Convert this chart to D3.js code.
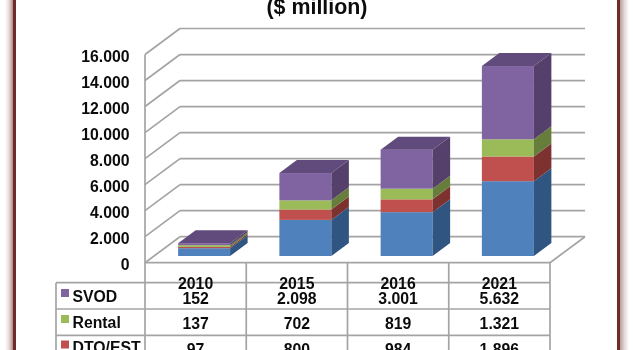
<!DOCTYPE html>
<html><head><meta charset="utf-8">
<script src="https://cdn.jsdelivr.net/npm/d3@7"></script>
<style>html,body{margin:0;padding:0;background:#fff}svg{display:block;filter:blur(0.4px)}
text{font-family:"Liberation Sans",Arial,sans-serif;font-weight:bold;fill:#0c0c0c}</style>
</head><body><svg id="c" width="633" height="350"></svg>
<script>
const categories = ["2010","2015","2016","2021"];
const blue   = [600, 2775, 3370, 5750];
const dto    = [97, 800, 984, 1896];
const rental = [137, 702, 819, 1321];
const svod   = [152, 2098, 3001, 5632];
const svodLabels   = ["152","2.098","3.001","5.632"];
const rentalLabels = ["137","702","819","1.321"];
const dtoLabels    = ["97","800","984","1.896"];
const yTicks = [0,2000,4000,6000,8000,10000,12000,14000,16000];
const yLabels = ["0","2.000","4.000","6.000","8.000","10.000","12.000","14.000","16.000"];

const W=633,H=350;
const svg=d3.select("#c");
const defs=svg.append("defs");
function grad(id,stops){const g=defs.append("linearGradient").attr("id",id);
  stops.forEach(s=>g.append("stop").attr("offset",s[0]).attr("stop-color",s[1]));}
grad("sl",[[0,"#ffffff"],[0.5,"#ead9d9"],[1,"#a98a8a"]]);
grad("sr",[[0,"#b89c9c"],[0.5,"#e6d8d8"],[1,"#ffffff"]]);
svg.append("rect").attr("x",5).attr("y",0).attr("width",8).attr("height",H).attr("fill","url(#sl)");
svg.append("rect").attr("x",620).attr("y",0).attr("width",9).attr("height",H).attr("fill","url(#sr)");
svg.append("rect").attr("x",13).attr("y",0).attr("width",3).attr("height",H).attr("fill","#6f2a2a");
svg.append("rect").attr("x",617).attr("y",0).attr("width",3).attr("height",H).attr("fill","#6f2a2a");

const y=d3.scaleLinear().domain([0,16000]).range([262.7,54.5]);
const x=d3.scaleBand().domain(categories).range([145,550]);
const depthX=35,depthY=-26;
const gridC="#a4a4a4";
const fs=15.8;
const g=svg.append("g");
const line=(x1,y1,x2,y2,w=1.7)=>g.append("line").attr("x1",x1).attr("y1",y1).attr("x2",x2).attr("y2",y2)
  .attr("stroke",gridC).attr("stroke-width",w);

// walls and grid
yTicks.forEach(t=>{
  line(145,y(t),145+depthX,y(t)+depthY);
  line(145+depthX,y(t)+depthY,550+depthX,y(t)+depthY);
});
line(145,y(16000),145,H);
line(550,y(0),550+depthX,y(0)+depthY);
line(145,y(0),550,y(0));

// y labels
g.selectAll("text.yl").data(yTicks).join("text").attr("class","yl")
  .attr("x",129.5).attr("y",t=>y(t)+7.3).attr("text-anchor","end").attr("font-size",fs)
  .text((t,i)=>yLabels[i]);

// bars
const series=[
 {v:blue,front:"#4f81bd",side:"#2f5580"},
 {v:dto,front:"#c0504d",side:"#7d3230"},
 {v:rental,front:"#9bbb59",side:"#677d3b"},
 {v:svod,front:"#8064a2",side:"#54406a",top:"#614b7c"}
];
const barW=52,offX=9,dX=17.5,dY=-13,base=y(0)-6.7;
const h=d3.scaleLinear().domain([0,16000]).range([0,y(0)-y(16000)]);
categories.forEach((c,i)=>{
  const bx=x(c)+x.bandwidth()/2-barW/2+offX-0.5;
  let cum=0;
  series.forEach(s=>{
    const y0=base-h(cum),y1=base-h(cum+s.v[i]);
    cum+=s.v[i];
    g.append("rect").attr("x",bx).attr("y",y1).attr("width",barW).attr("height",y0-y1).attr("fill",s.front);
    g.append("path").attr("fill",s.side).attr("d",d3.line()([[bx+barW,y0],[bx+barW+dX,y0+dY],[bx+barW+dX,y1+dY],[bx+barW,y1]]));
    if(s.top) g.append("path").attr("fill",s.top).attr("d",d3.line()([[bx,y1],[bx+dX,y1+dY],[bx+barW+dX,y1+dY],[bx+barW,y1]]));
  });
});

// table
const rowsY=[282.7,309,335.3];
rowsY.forEach(r=>line(56,r,550,r));
line(56,rowsY[0],56,H);
x.domain().forEach(c=>line(x(c)+x.bandwidth(),y(0),x(c)+x.bandwidth(),H));

g.selectAll("text.cat").data(categories).join("text").attr("class","cat")
  .attr("x",c=>x(c)+x.bandwidth()/2).attr("y",289).attr("text-anchor","middle").attr("font-size",fs).text(c=>c);

const rows=[
 {name:"SVOD",labels:svodLabels,col:"#8064a2",by:303.5,ny:301.5},
 {name:"Rental",labels:rentalLabels,col:"#9bbb59",by:329,ny:327.5},
 {name:"DTO/EST",labels:dtoLabels,col:"#c0504d",by:354.6,ny:353}
];
rows.forEach(r=>{
  g.append("rect").attr("x",61).attr("y",r.ny-12.5).attr("width",8).attr("height",8).attr("fill",r.col);
  g.append("text").attr("x",72.5).attr("y",r.ny).attr("font-size",fs).text(r.name);
  categories.forEach((c,i)=>g.append("text").attr("x",x(c)+x.bandwidth()/2).attr("y",r.by)
    .attr("text-anchor","middle").attr("font-size",fs).text(r.labels[i]));
});

// title
svg.append("text").attr("x",317).attr("y",14).attr("text-anchor","middle").attr("font-size",21.4).text("($ million)");
</script></body></html>
